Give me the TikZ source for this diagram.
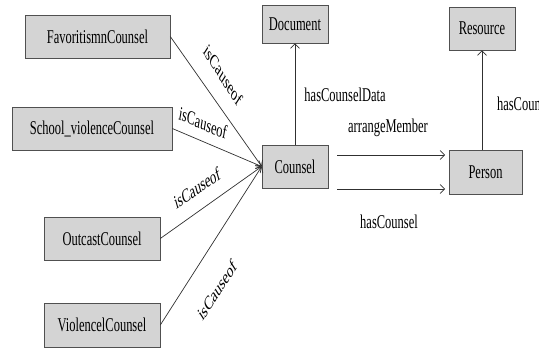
\documentclass[tikz,border=0pt]{standalone}
\usepackage{fontspec}
\setmainfont{Liberation Serif}
\usetikzlibrary{arrows.meta}
\definecolor{boxfill}{HTML}{D4D4D4}
\definecolor{boxline}{HTML}{505050}
\definecolor{lineclr}{HTML}{303030}
\begin{document}
\begin{tikzpicture}[x=1pt,y=-1pt,xscale=0.64,
  every node/.style={transform shape,font=\fontsize{19.5}{22}\selectfont,text=black},
  cls/.style={draw=boxline,fill=boxfill,line width=0.9pt,inner sep=0pt,minimum height=43pt},
  lbl/.style={inner sep=1pt},
  arr/.style={draw=lineclr,line width=0.7pt,-{Straight Barb[length=4.5pt,width=9pt]}}]
\clip (0,0) rectangle (842.19,348);
% nodes
\node[cls,minimum width=226.6pt] (fav) at (152.3,36.5) {FavoritismnCounsel};
\node[cls,minimum width=250pt] (school) at (143.75,128.5) {School\_violenceCounsel};
\node[cls,minimum width=181.25pt] (outcast) at (159.4,238.5) {OutcastCounsel};
\node[cls,minimum width=181.25pt,minimum height=44pt] (violence) at (159.4,325) {ViolencelCounsel};
\node[cls,minimum width=103.1pt,minimum height=38pt] (document) at (460.9,24) {Document};
\node[cls,minimum width=103.1pt] (resource) at (753.1,28.5) {Resource};
\node[cls,minimum width=103.1pt] (counsel) at (460.9,166.5) {Counsel};
\node[cls,minimum width=114.1pt,minimum height=44pt] (person) at (758.6,172) {Person};
% free ends
\coordinate (am1) at (526.6,155);
\coordinate (am2) at (695.3,155);
\coordinate (hc1) at (526.6,189);
\coordinate (hc2) at (695.3,189);
% edges
\draw[arr] (fav.east) -- (counsel.west);
\draw[arr] (school.east) -- (counsel.west);
\draw[arr] (outcast.east) -- (counsel.west);
\draw[arr] (violence.east) -- (counsel.west);
\draw[arr] (counsel.north) -- (document.south);
\draw[arr] (person.north -| resource.south) -- (resource.south);
\draw[arr] (am1) -- (am2);
\draw[arr] (hc1) -- (hc2);
% labels
\node[lbl,rotate=-45] (l1) at (348.4,75) {isCauseof};
\node[lbl,rotate=-15] (l2) at (317.2,123) {isCauseof};
\node[lbl,rotate=24] (l3) at (307.8,188) {isCauseof};
\node[lbl,rotate=45] (l4) at (339,290) {isCauseof};
\node[lbl] (hcd) at (539.1,95) {hasCounselData};
\node[lbl] (amlbl) at (606.25,128) {arrangeMember};
\node[lbl] (hclbl) at (607.8,222) {hasCounsel};
\node[lbl,anchor=west] (hcr) at (775.5,104) {hasCounsel};
\end{tikzpicture}
\end{document}
